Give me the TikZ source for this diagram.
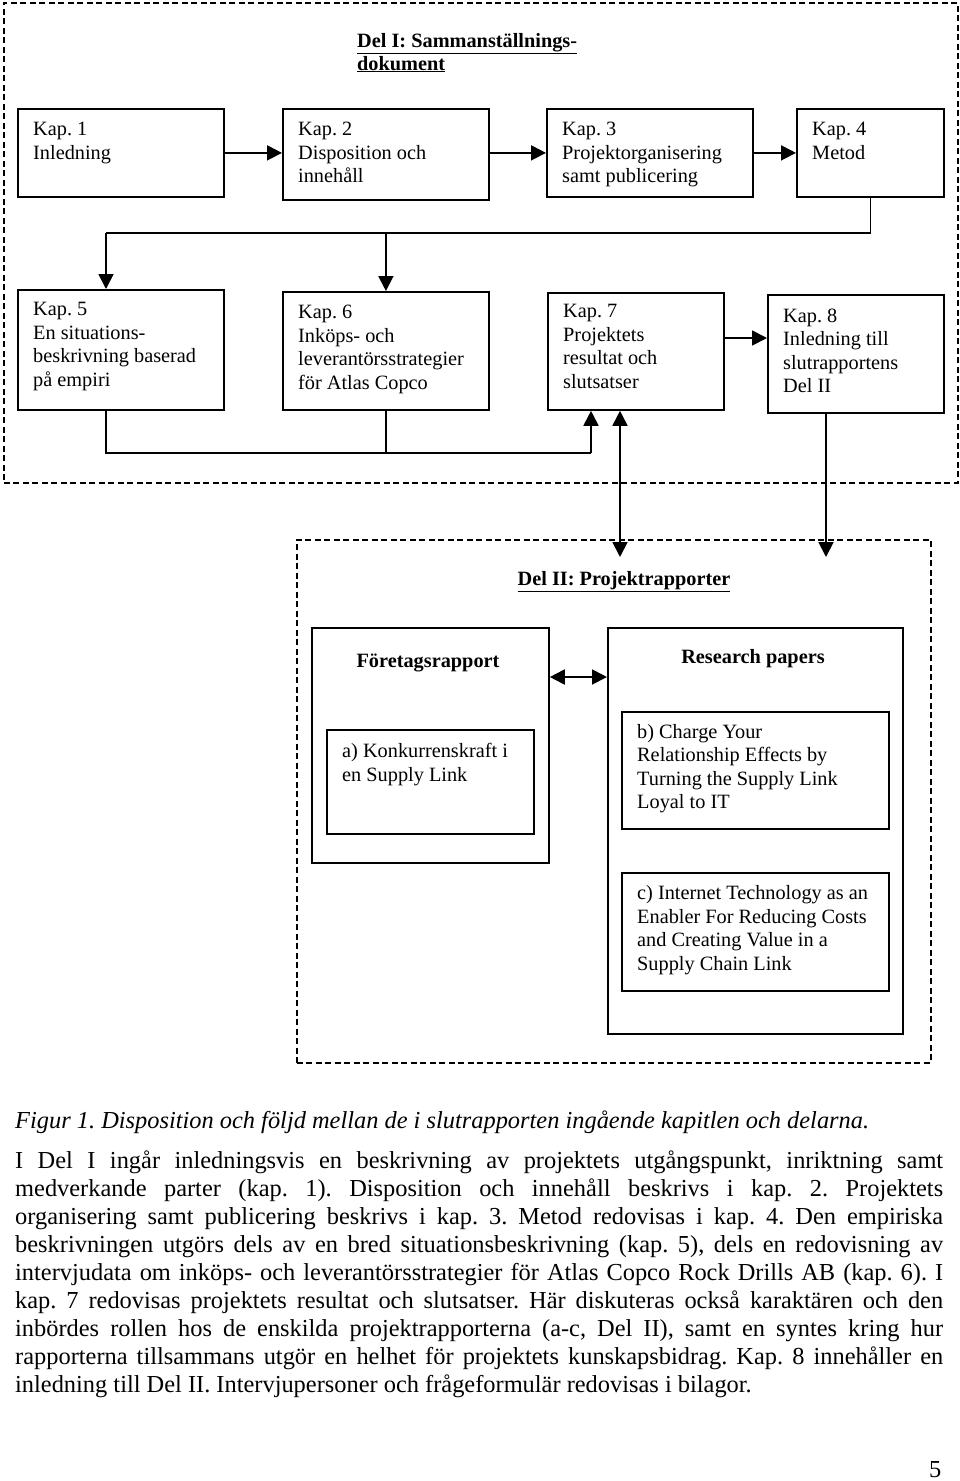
\documentclass[tikz,border=0pt]{standalone}
\usepackage{fontspec}
\setmainfont{Liberation Serif}
\usetikzlibrary{arrows.meta,calc}
\frenchspacing
\tikzset{
  box/.style={draw, line width=1.8pt, inner sep=0pt, anchor=north west},
  dbox/.style={draw, line width=1.6pt, dash pattern=on 6pt off 3.5pt, inner sep=0pt, anchor=north west},
  txt/.style={anchor=north west, inner sep=0pt, align=left, font=\fontsize{20.3}{23.5}\selectfont},
  ttl/.style={inner sep=0pt, font=\fontsize{20.3}{23.5}\selectfont\bfseries},
  conn/.style={line width=1.8pt},
  arr/.style={conn, -{Triangle[length=15pt,width=15pt]}},
  darr/.style={conn, {Triangle[length=15pt,width=15pt]}-{Triangle[length=15pt,width=15pt]}},
  body/.style={anchor=base west, inner sep=0pt, font=\fontsize{24.4}{28.2}\selectfont},
}
\newcommand{\jl}[1]{\makebox[928pt][s]{#1}}
\begin{document}
\frenchspacing
\begin{tikzpicture}[x=1pt,y=-1pt]
\fill[white] (0,0) rectangle (960,1481);
\useasboundingbox (0,0) rectangle (960,1481);

% ---------- Del I ----------
\node[dbox, minimum width=954pt, minimum height=480pt] (del1) at (3,2) {};
\node[ttl, anchor=base west] (t1a) at (357,47) {\underline{Del I: Sammanställnings-}};
\node[ttl, anchor=base west] (t1b) at (357,70) {\underline{dokument}};

\node[box, minimum width=206pt, minimum height=88pt] (k1) at (17,108) {};
\node[box, minimum width=206pt, minimum height=91pt] (k2) at (282,108) {};
\node[box, minimum width=206pt, minimum height=88pt] (k3) at (546,108) {};
\node[box, minimum width=147pt, minimum height=88pt] (k4) at (796,108) {};

\node[box, minimum width=206pt, minimum height=120pt] (k5) at (17,289) {};
\node[box, minimum width=206pt, minimum height=118pt] (k6) at (282,291) {};
\node[box, minimum width=176pt, minimum height=117pt] (k7) at (547,292) {};
\node[box, minimum width=176pt, minimum height=118pt] (k8) at (767,294) {};

\node[txt] (x1) at (33,122.3) {Kap. 1\\Inledning};
\node[txt] (x2) at (298,122.3) {Kap. 2\\Disposition och\\innehåll};
\node[txt] (x3) at (562,122.3) {Kap. 3\\Projektorganisering\\samt publicering};
\node[txt] (x4) at (812,122.3) {Kap. 4\\Metod};
\node[txt] (x5) at (33,302.3) {Kap. 5\\En situations-\\beskrivning baserad\\på empiri};
\node[txt] (x6) at (298,305.3) {Kap. 6\\Inköps- och\\leverantörsstrategier\\för Atlas Copco};
\node[txt] (x7) at (563,304.3) {Kap. 7\\Projektets\\resultat och\\slutsatser};
\node[txt] (x8) at (783,308.3) {Kap. 8\\Inledning till\\slutrapportens\\Del II};

% top row arrows
\draw[arr] (k1.east) -- (k1.east -| k2.west);
\draw[arr] (k2.east |- k1.east) -- (k1.east -| k3.west);
\draw[arr] (k3.east |- k1.east) -- (k1.east -| k4.west);

% Kap 4 -> Kap 5, Kap 6
\coordinate (j2) at (106,233);
\draw[conn] (k4.south) |- (j2);
\draw[arr] (j2) -- (j2 |- k5.north);
\draw[arr] (k6.north |- j2) -- (k6.north);

% Kap 7 -> Kap 8
\coordinate (m78) at (0,338);
\draw[arr] (k7.east |- m78) -- (k8.west |- m78);

% Kap 5, Kap 6 -> Kap 7
\coordinate (b1) at (106,453);
\coordinate (b2) at (591,453);
\draw[conn] (b1 |- k5.south) -- (b1) -- (b2);
\draw[conn] (k6.south) -- (k6.south |- b1);
\draw[arr] (b2) -- (b2 |- k7.south);

% ---------- Del II ----------
\node[dbox, minimum width=634pt, minimum height=523pt] (del2) at (296,539) {};
\node[ttl, anchor=base] (t2) at (624,585) {\underline{Del II: Projektrapporter}};

\coordinate (d1) at (620,557);
\draw[darr] (d1 |- k7.south) -- (d1);
\coordinate (d2) at (826,557);
\draw[arr] (d2 |- k8.south) -- (d2);

\node[box, minimum width=237pt, minimum height=235pt] (fr) at (311,627) {};
\node[box, minimum width=295pt, minimum height=406pt] (rp) at (607,627) {};
\node[ttl, anchor=base] (frt) at (428,667) {Företagsrapport};
\node[ttl, anchor=base] (rpt) at (753,663) {Research papers};
\coordinate (h) at (0,677);
\draw[darr] (fr.east |- h) -- (rp.west |- h);

\node[box, minimum width=207pt, minimum height=104pt] (ra) at (326,729) {};
\node[box, minimum width=267pt, minimum height=117pt] (rb) at (621,711) {};
\node[box, minimum width=267pt, minimum height=118pt] (rc) at (621,872) {};
\node[txt] (xa) at (342,743.3) {a) Konkurrenskraft i\\en Supply Link};
\node[txt] (xb) at (637,723.8) {b) Charge Your\\Relationship Effects by\\Turning the Supply Link\\Loyal to IT};
\node[txt] (xc) at (637,885.3) {c) Internet Technology as an\\Enabler For Reducing Costs\\and Creating Value in a\\Supply Chain Link};

% ---------- caption and text ----------
\node[body] (cap) at (15,1128) {\itshape Figur 1. Disposition och följd mellan de i slutrapporten ingående kapitlen och delarna.};
\node[body] (p1) at (15,1168.0) {\jl{I Del I ingår inledningsvis en beskrivning av projektets utgångspunkt, inriktning samt}};
\node[body] (p2) at (15,1196.1) {\jl{medverkande parter (kap. 1). Disposition och innehåll beskrivs i kap. 2. Projektets}};
\node[body] (p3) at (15,1224.2) {\jl{organisering samt publicering beskrivs i kap. 3. Metod redovisas i kap. 4. Den empiriska}};
\node[body] (p4) at (15,1252.3) {\jl{beskrivningen utgörs dels av en bred situationsbeskrivning (kap. 5), dels en redovisning av}};
\node[body] (p5) at (15,1280.4) {\jl{intervjudata om inköps- och leverantörsstrategier för Atlas Copco Rock Drills AB (kap. 6). I}};
\node[body] (p6) at (15,1308.5) {\jl{kap. 7 redovisas projektets resultat och slutsatser. Här diskuteras också karaktären och den}};
\node[body] (p7) at (15,1336.6) {\jl{inbördes rollen hos de enskilda projektrapporterna (a-c, Del II), samt en syntes kring hur}};
\node[body] (p8) at (15,1364.7) {\jl{rapporterna tillsammans utgör en helhet för projektets kunskapsbidrag. Kap. 8 innehåller en}};
\node[body] (p9) at (15,1392.8) {inledning till Del II. Intervjupersoner och frågeformulär redovisas i bilagor.};
\node[body] (pg) at (929,1477) {5};
\end{tikzpicture}
\end{document}
